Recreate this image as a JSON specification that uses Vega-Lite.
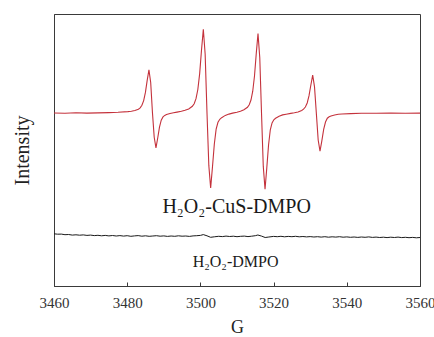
{
  "$schema": "https://vega.github.io/schema/vega-lite/v6.json",
  "width": 366,
  "height": 272,
  "autosize": {"type": "none"},
  "padding": {"left": 54, "top": 14, "right": 14, "bottom": 51},
  "background": "white",
  "config": {
    "view": {"stroke": "#3a3a3a", "strokeWidth": 1},
    "font": "Liberation Serif",
    "axis": {"labelFont": "Liberation Serif", "titleFont": "Liberation Serif"},
    "text": {"font": "Liberation Serif"}
  },
  "datasets": {
    "red": [
      {"G": 3460, "v": 173.0}, {"G": 3463, "v": 172.7}, {"G": 3466, "v": 173.2}, {"G": 3469, "v": 172.9},
      {"G": 3472, "v": 173.1}, {"G": 3475, "v": 173.4}, {"G": 3477.5, "v": 173.7},
      {"G": 3480.18, "v": 174.4}, {"G": 3481.14, "v": 174.8}, {"G": 3482.1, "v": 175.5}, {"G": 3483.06, "v": 176.8},
      {"G": 3483.54, "v": 178.1}, {"G": 3484.02, "v": 180.7}, {"G": 3484.5, "v": 185.4}, {"G": 3484.98, "v": 193.6},
      {"G": 3485.46, "v": 205.7}, {"G": 3485.94, "v": 216.2}, {"G": 3486.42, "v": 203.5}, {"G": 3486.9, "v": 173.4},
      {"G": 3487.38, "v": 148.7}, {"G": 3487.86, "v": 138.1}, {"G": 3488.34, "v": 148.0}, {"G": 3488.82, "v": 158.9},
      {"G": 3489.3, "v": 165.8}, {"G": 3489.78, "v": 169.1}, {"G": 3490.26, "v": 170.6}, {"G": 3490.74, "v": 171.4},
      {"G": 3491.7, "v": 172.5}, {"G": 3492.66, "v": 173.3}, {"G": 3493.62, "v": 173.9},
      {"G": 3494.8, "v": 174.7}, {"G": 3495.8, "v": 175.7}, {"G": 3496.8, "v": 177.1}, {"G": 3497.8, "v": 179.7},
      {"G": 3498.3, "v": 182.3}, {"G": 3498.8, "v": 187.3}, {"G": 3499.3, "v": 196.5}, {"G": 3499.8, "v": 212.4},
      {"G": 3500.3, "v": 235.9}, {"G": 3500.8, "v": 256.8}, {"G": 3501.3, "v": 231.7}, {"G": 3501.8, "v": 173.3},
      {"G": 3502.3, "v": 120.6}, {"G": 3502.8, "v": 98.0}, {"G": 3503.3, "v": 119.1}, {"G": 3503.8, "v": 141.8},
      {"G": 3504.3, "v": 156.8}, {"G": 3504.8, "v": 163.7}, {"G": 3505.3, "v": 166.7}, {"G": 3505.8, "v": 168.3},
      {"G": 3506.8, "v": 170.6}, {"G": 3507.8, "v": 171.9}, {"G": 3508.8, "v": 172.9},
      {"G": 3509.98, "v": 173.8}, {"G": 3510.94, "v": 174.8}, {"G": 3511.9, "v": 176.2}, {"G": 3512.86, "v": 178.7},
      {"G": 3513.34, "v": 181.2}, {"G": 3513.82, "v": 186.0}, {"G": 3514.3, "v": 194.8}, {"G": 3514.78, "v": 210.0},
      {"G": 3515.26, "v": 232.4}, {"G": 3515.74, "v": 252.4}, {"G": 3516.22, "v": 228.5}, {"G": 3516.7, "v": 172.8},
      {"G": 3517.18, "v": 119.6}, {"G": 3517.66, "v": 96.8}, {"G": 3518.14, "v": 118.1}, {"G": 3518.62, "v": 141.0},
      {"G": 3519.1, "v": 156.2}, {"G": 3519.58, "v": 163.1}, {"G": 3520.06, "v": 166.2}, {"G": 3520.54, "v": 167.7},
      {"G": 3521.5, "v": 169.8}, {"G": 3522.46, "v": 171.1}, {"G": 3523.42, "v": 171.8},
      {"G": 3524.68, "v": 172.6}, {"G": 3525.68, "v": 173.2}, {"G": 3526.68, "v": 174.0}, {"G": 3527.68, "v": 175.6},
      {"G": 3528.18, "v": 176.8}, {"G": 3528.68, "v": 179.0}, {"G": 3529.18, "v": 183.0}, {"G": 3529.68, "v": 190.3},
      {"G": 3530.18, "v": 201.0}, {"G": 3530.68, "v": 210.8}, {"G": 3531.18, "v": 199.1}, {"G": 3531.68, "v": 172.6},
      {"G": 3532.18, "v": 146.0}, {"G": 3532.68, "v": 134.8}, {"G": 3533.18, "v": 145.2}, {"G": 3533.68, "v": 156.7},
      {"G": 3534.18, "v": 164.0}, {"G": 3534.68, "v": 167.8}, {"G": 3535.18, "v": 169.3}, {"G": 3535.68, "v": 170.0},
      {"G": 3536.68, "v": 171.0}, {"G": 3537.68, "v": 171.7}, {"G": 3538.68, "v": 172.0},
      {"G": 3541, "v": 172.4}, {"G": 3544, "v": 172.7}, {"G": 3548, "v": 172.8}, {"G": 3552, "v": 173.0},
      {"G": 3556, "v": 172.8}, {"G": 3560, "v": 172.9}
    ],
    "black": [
      {"G": 3460, "v": 52.2}, {"G": 3461, "v": 51.8}, {"G": 3462, "v": 51.9}, {"G": 3463, "v": 51.3},
      {"G": 3464, "v": 51.5}, {"G": 3465, "v": 50.9}, {"G": 3466, "v": 51.2}, {"G": 3467, "v": 50.8},
      {"G": 3468, "v": 51.1}, {"G": 3469, "v": 50.6}, {"G": 3470, "v": 50.9}, {"G": 3471, "v": 50.4},
      {"G": 3472, "v": 50.7}, {"G": 3473, "v": 50.2}, {"G": 3474, "v": 50.6}, {"G": 3475, "v": 50.1},
      {"G": 3476, "v": 50.5}, {"G": 3477, "v": 50.0}, {"G": 3478, "v": 50.4}, {"G": 3479, "v": 49.9},
      {"G": 3480, "v": 50.3}, {"G": 3481, "v": 49.7}, {"G": 3482, "v": 50.1}, {"G": 3483, "v": 50.4},
      {"G": 3484, "v": 49.8}, {"G": 3485, "v": 50.2}, {"G": 3486, "v": 49.7}, {"G": 3487, "v": 50.0},
      {"G": 3488, "v": 50.3}, {"G": 3489, "v": 49.8}, {"G": 3490, "v": 50.1}, {"G": 3491, "v": 49.6},
      {"G": 3492, "v": 50.0}, {"G": 3493, "v": 49.7}, {"G": 3494, "v": 50.2}, {"G": 3495, "v": 49.8},
      {"G": 3496, "v": 50.0}, {"G": 3497, "v": 49.6}, {"G": 3498, "v": 50.1}, {"G": 3499, "v": 50.3},
      {"G": 3500, "v": 50.6}, {"G": 3500.8, "v": 51.4}, {"G": 3501.8, "v": 50.2}, {"G": 3502.8, "v": 48.7},
      {"G": 3503.8, "v": 49.2}, {"G": 3505, "v": 49.7}, {"G": 3506, "v": 49.4}, {"G": 3507, "v": 49.9},
      {"G": 3508, "v": 49.5}, {"G": 3509, "v": 49.8}, {"G": 3510, "v": 49.3}, {"G": 3511, "v": 49.7},
      {"G": 3512, "v": 49.9}, {"G": 3513, "v": 49.4}, {"G": 3514, "v": 49.8}, {"G": 3515, "v": 50.3},
      {"G": 3515.7, "v": 51.0}, {"G": 3516.7, "v": 49.9}, {"G": 3517.7, "v": 48.5}, {"G": 3518.7, "v": 49.0},
      {"G": 3520, "v": 49.6}, {"G": 3521, "v": 49.3}, {"G": 3522, "v": 49.7}, {"G": 3523, "v": 49.2},
      {"G": 3524, "v": 49.6}, {"G": 3525, "v": 49.3}, {"G": 3526, "v": 49.7}, {"G": 3527, "v": 49.2},
      {"G": 3528, "v": 49.5}, {"G": 3529, "v": 49.1}, {"G": 3530, "v": 49.4}, {"G": 3531, "v": 49.0},
      {"G": 3532, "v": 49.3}, {"G": 3533, "v": 48.9}, {"G": 3534, "v": 49.3}, {"G": 3535, "v": 48.8},
      {"G": 3536, "v": 49.2}, {"G": 3537, "v": 48.9}, {"G": 3538, "v": 49.3}, {"G": 3539, "v": 48.8},
      {"G": 3540, "v": 49.1}, {"G": 3541, "v": 48.7}, {"G": 3542, "v": 49.0}, {"G": 3543, "v": 48.6},
      {"G": 3544, "v": 49.0}, {"G": 3545, "v": 48.7}, {"G": 3546, "v": 49.1}, {"G": 3547, "v": 48.6},
      {"G": 3548, "v": 48.9}, {"G": 3549, "v": 48.5}, {"G": 3550, "v": 48.8}, {"G": 3551, "v": 48.4},
      {"G": 3552, "v": 48.8}, {"G": 3553, "v": 48.5}, {"G": 3554, "v": 48.9}, {"G": 3555, "v": 48.4},
      {"G": 3556, "v": 48.7}, {"G": 3557, "v": 48.3}, {"G": 3558, "v": 48.6}, {"G": 3559, "v": 48.2},
      {"G": 3560, "v": 48.5}
    ],
    "labels": [
      {"G": 3509.9, "v": 73, "label": "H₂O₂-CuS-DMPO", "size": 20},
      {"G": 3509.6, "v": 19.5, "label": "H₂O₂-DMPO", "size": 16}
    ]
  },
  "layer": [
    {
      "data": {"name": "red"},
      "mark": {"type": "line", "color": "#c4323c", "strokeWidth": 1.1, "clip": true},
      "encoding": {
        "x": {
          "field": "G", "type": "quantitative",
          "scale": {"domain": [3460, 3560], "nice": false, "zero": false},
          "axis": {
            "title": "G", "titleFont": "Liberation Serif", "titleFontSize": 18, "titleFontWeight": "normal",
            "titleColor": "#222", "titlePadding": 8,
            "values": [3460, 3470, 3480, 3490, 3500, 3510, 3520, 3530, 3540, 3550, 3560],
            "labelExpr": "datum.value % 20 === 0 ? datum.label : ''",
            "format": "d",
            "labelFont": "Liberation Serif", "labelFontSize": 15, "labelColor": "#333",
            "labelPadding": 13, "labelFlush": false, "labelOverlap": false,
            "tickSize": -4, "tickColor": "#3a3a3a", "domainColor": "#3a3a3a", "grid": false
          }
        },
        "y": {
          "field": "v", "type": "quantitative",
          "scale": {"domain": [0, 272], "nice": false, "zero": false},
          "axis": {
            "title": "Intensity", "titleFont": "Liberation Serif", "titleFontSize": 20, "titleFontWeight": "normal",
            "titleColor": "#222", "titlePadding": 22,
            "labels": false, "ticks": false, "grid": false, "domainColor": "#3a3a3a"
          }
        }
      }
    },
    {
      "data": {"name": "black"},
      "mark": {"type": "line", "color": "#1a1a1a", "strokeWidth": 1, "clip": true},
      "encoding": {
        "x": {"field": "G", "type": "quantitative"},
        "y": {"field": "v", "type": "quantitative"}
      }
    },
    {
      "data": {"name": "labels"},
      "mark": {"type": "text", "font": "Liberation Serif", "color": "#1a1a1a", "baseline": "alphabetic", "align": "center"},
      "encoding": {
        "x": {"field": "G", "type": "quantitative"},
        "y": {"field": "v", "type": "quantitative"},
        "text": {"field": "label"},
        "size": {"field": "size", "type": "quantitative", "scale": null}
      }
    }
  ]
}
